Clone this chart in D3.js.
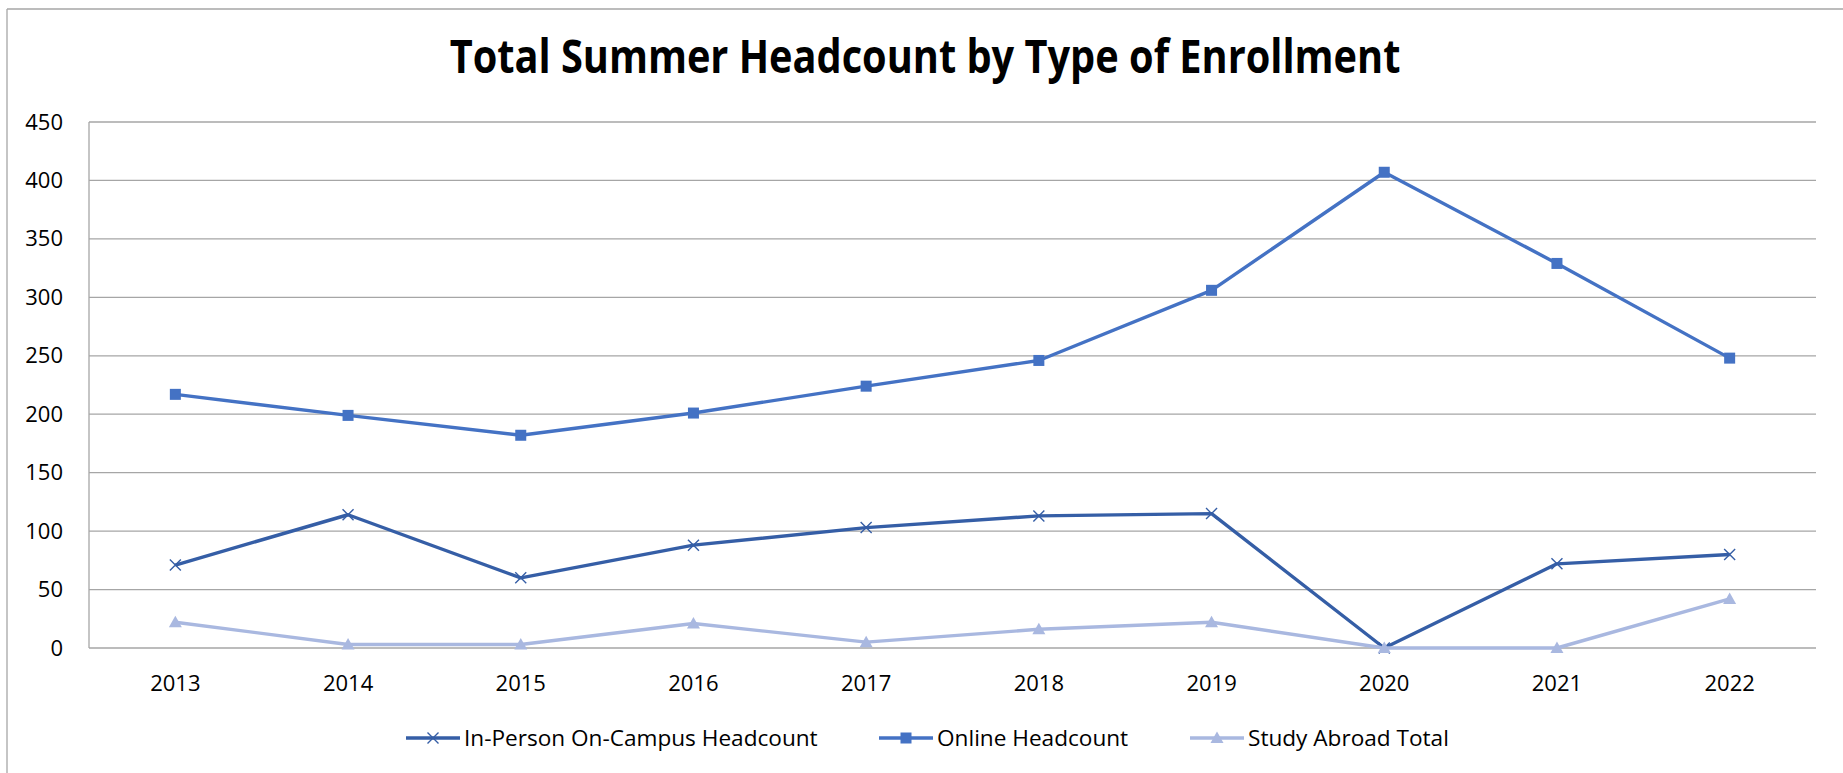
<!DOCTYPE html>
<html>
<head>
<meta charset="utf-8">
<script src="https://cdn.jsdelivr.net/npm/d3@7"></script>
<style>
  html, body { margin: 0; padding: 0; background: #fff; overflow: hidden; }
  svg { display: block; }
  text { font-family: "Open Sans", "Noto Sans", sans-serif; fill: #000; }
</style>
</head>
<body>
<svg id="chart"></svg>
<script>
// data
var years = ["2013", "2014", "2015", "2016", "2017", "2018", "2019", "2020", "2021", "2022"];
var inPerson = [71, 114, 60, 88, 103, 113, 115, 0, 72, 80];
var online = [217, 199, 182, 201, 224, 246, 306, 407, 329, 248];
var studyAbroad = [22, 3, 3, 21, 5, 16, 22, 0, 0, 42];
var yTicks = [0, 50, 100, 150, 200, 250, 300, 350, 400, 450];
var seriesNames = ["In-Person On-Campus Headcount", "Online Headcount", "Study Abroad Total"];

var width = 1843, height = 773;
var margin = { left: 89, top: 122, right: 27, bottom: 125 };
var innerWidth = width - margin.left - margin.right;
var innerHeight = height - margin.top - margin.bottom;

var colors = ["#355ea6", "#4472c4", "#a9b8e0"];
var markers = ["x", "square", "triangle"];

var svg = d3.select("#chart")
    .attr("width", width)
    .attr("height", height);

// chart border: only the top and left edges show in the picture
svg.append("line")
    .attr("x1", 7).attr("x2", 7).attr("y1", 9).attr("y2", height)
    .attr("stroke", "#a6a6a6").attr("stroke-width", 1.3);
svg.append("line")
    .attr("x1", 7).attr("x2", width).attr("y1", 9).attr("y2", 9)
    .attr("stroke", "#a6a6a6").attr("stroke-width", 1.3);

// squeeze a text horizontally to a target width (the original font is narrower)
function fitWidth(textSel, cx, target) {
    var w = textSel.node().getComputedTextLength();
    var k = Math.min(1, target / w);
    textSel.attr("transform", "translate(" + cx + ",0) scale(" + k + ",1)");
}

var title = svg.append("text")
    .attr("x", 0)
    .attr("y", 73)
    .attr("text-anchor", "middle")
    .attr("font-size", 46)
    .attr("font-weight", "bold")
    .text("Total Summer Headcount by Type of Enrollment");
fitWidth(title, 925, 951);

var g = svg.append("g")
    .attr("transform", "translate(" + margin.left + "," + margin.top + ")");

var x = d3.scaleBand().domain(years).range([0, innerWidth]);
var y = d3.scaleLinear().domain([0, 450]).range([innerHeight, 0]);

// gridlines
g.selectAll(".grid")
    .data(yTicks)
    .enter().append("line")
    .attr("class", "grid")
    .attr("x1", 0).attr("x2", innerWidth)
    .attr("y1", function(d) { return y(d); })
    .attr("y2", function(d) { return y(d); })
    .attr("stroke", "#a6a6a6")
    .attr("stroke-width", 1.3);

// left axis line
g.append("line")
    .attr("x1", 0).attr("x2", 0)
    .attr("y1", 0).attr("y2", innerHeight)
    .attr("stroke", "#a6a6a6")
    .attr("stroke-width", 1.3);

var yAxis = d3.axisLeft(y).tickValues(yTicks).tickSize(0).tickPadding(26);
var yAxisG = g.append("g").call(yAxis)
    .attr("font-size", 22)
    .attr("font-family", "Open Sans, sans-serif");
yAxisG.select(".domain").remove();
yAxisG.selectAll("text").attr("fill", "#000");

var xAxis = d3.axisBottom(x).tickSize(0).tickPadding(27);
var xAxisG = g.append("g")
    .attr("transform", "translate(0," + innerHeight + ")")
    .call(xAxis)
    .attr("font-size", 22)
    .attr("font-family", "Open Sans, sans-serif");
xAxisG.select(".domain").remove();
xAxisG.selectAll("text").attr("fill", "#000");

var series = [inPerson, online, studyAbroad];

var line = d3.line()
    .x(function(d, i) { return x(years[i]) + x.bandwidth() / 2; })
    .y(function(d) { return y(d); });

function drawMarker(sel, type, color) {
    if (type === "x") {
        sel.append("path")
            .attr("d", "M-5.5,-5.5L5.5,5.5M-5.5,5.5L5.5,-5.5")
            .attr("stroke", color)
            .attr("stroke-width", 1.4)
            .attr("fill", "none");
    } else if (type === "square") {
        sel.append("rect")
            .attr("x", -5.5).attr("y", -5.5)
            .attr("width", 11).attr("height", 11)
            .attr("fill", color);
    } else {
        sel.append("path")
            .attr("d", "M0,-6.5L6.5,5L-6.5,5Z")
            .attr("fill", color);
    }
}

series.forEach(function(vals, si) {
    g.append("path")
        .datum(vals)
        .attr("d", line)
        .attr("fill", "none")
        .attr("stroke", colors[si])
        .attr("stroke-width", 3.4)
        .attr("stroke-linejoin", "round");
});

series.forEach(function(vals, si) {
    g.selectAll(".m" + si)
        .data(vals)
        .enter().append("g")
        .attr("class", "m" + si)
        .attr("transform", function(d, i) {
            return "translate(" + (x(years[i]) + x.bandwidth() / 2) + "," + y(d) + ")";
        })
        .each(function() { drawMarker(d3.select(this), markers[si], colors[si]); });
});

// legend
var legendX = [406, 879, 1190];
var legendY = 738;
var legend = svg.selectAll(".legend")
    .data(seriesNames)
    .enter().append("g")
    .attr("class", "legend")
    .attr("transform", function(d, i) { return "translate(" + legendX[i] + "," + legendY + ")"; });

legend.append("line")
    .attr("x1", 0).attr("x2", 54)
    .attr("stroke", function(d, i) { return colors[i]; })
    .attr("stroke-width", 3.4);

legend.each(function(d, i) {
    var m = d3.select(this).append("g").attr("transform", "translate(27,0)");
    drawMarker(m, markers[i], colors[i]);
});

legend.append("text")
    .attr("x", 58)
    .attr("y", 0)
    .attr("dy", "0.35em")
    .attr("font-size", 22.6)
    .text(function(d) { return d; });
</script>
</body>
</html>
